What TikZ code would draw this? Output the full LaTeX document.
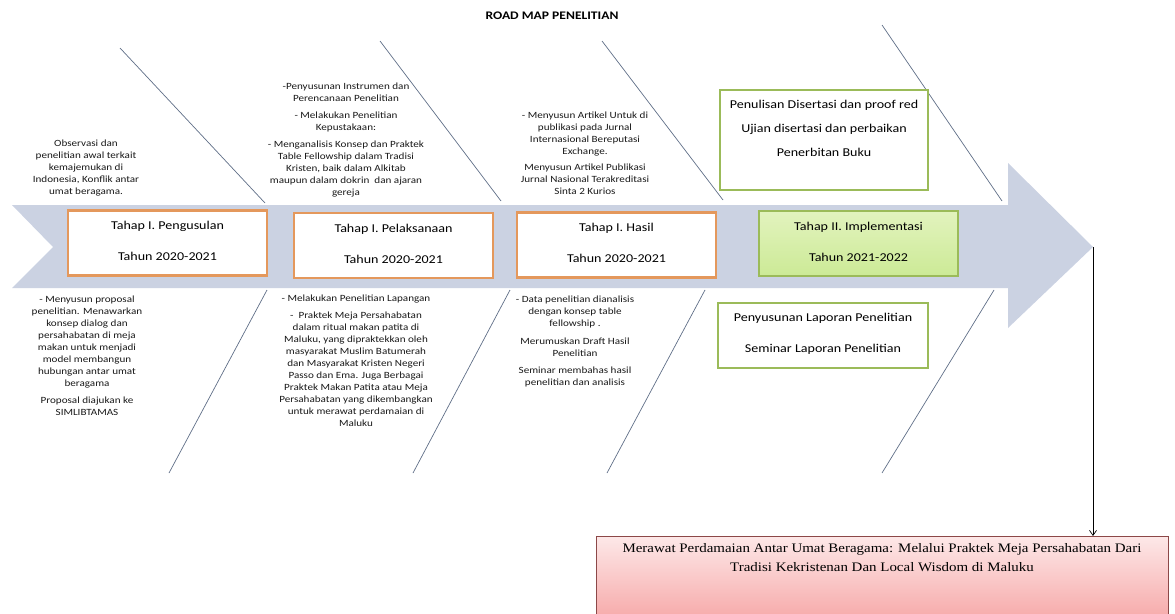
\documentclass[tikz,border=0pt]{standalone}
\usepackage{fontspec}
\setmainfont{Carlito}[FakeStretch=1.17]
\newfontfamily\goalfont{Liberation Serif}[FakeStretch=1.15]
\usetikzlibrary{arrows.meta}
\definecolor{bandblue}{RGB}{203,210,226}
\definecolor{fishline}{RGB}{95,110,135}
\definecolor{stageorange}{RGB}{228,152,92}
\definecolor{stagegreen}{RGB}{155,187,89}
\definecolor{greentop}{RGB}{226,243,190}
\definecolor{greenbot}{RGB}{204,234,150}
\definecolor{goaltop}{RGB}{253,232,232}
\definecolor{goalbot}{RGB}{245,155,155}
\definecolor{goalline}{RGB}{140,72,72}
\definecolor{notetext}{RGB}{25,25,25}
\newcommand{\Thn}[1]{Tahun #1}
\tikzset{
  stagebox/.style={draw=stageorange, line width=2.2pt, fill=white,
    minimum width=199, minimum height=65, align=center,
    font=\fontsize{12}{14}\selectfont, text depth=4pt},
  planbox/.style={stagebox, draw=stagegreen},
  note/.style={anchor=north, inner sep=0pt, align=center, text=notetext,
    font=\fontsize{9.5}{12}\selectfont},
  fish/.style={draw=fishline, line width=0.7pt}
}

\begin{document}
\begin{tikzpicture}[x=1pt, y=-1pt]
  \useasboundingbox (0,0) rectangle (1175,613);

  \node[font=\bfseries\fontsize{11.6}{13}\selectfont] (title) at (552,16) {ROAD MAP PENELITIAN};

  % panah utama
  \fill[bandblue] (12,205) -- (1008,205) -- (1008,163) -- (1093,247)
    -- (1008,328) -- (1008,288) -- (12,288) -- (53,247) -- cycle;
  \coordinate (tip) at (1093,247);

  % tulang ikan
  \draw[fish] (120,48) -- (265,203);
  \draw[fish] (380,41) -- (501,201);
  \draw[fish] (602,41) -- (723,200);
  \draw[fish] (882,25) -- (1002,201);
  \draw[fish] (267,290) -- (169,473);
  \draw[fish] (510,290) -- (413,473);
  \draw[fish] (705,290) -- (607,473);
  \draw[fish] (994,290) -- (882,473);

  \node[stagebox] (pengusulan) at (167.5,243) {Tahap I. Pengusulan\\[17pt]\Thn{2020-2021}};
  \node[stagebox] (pelaksanaan) at (393.5,245.5) {Tahap I. Pelaksanaan\\[17pt]\Thn{2020-2021}};
  \node[stagebox] (hasil) at (616.5,245) {Tahap I. Hasil\\[17pt]\Thn{2020-2021}};
  \node[planbox, top color=greentop, bottom color=greenbot] (implementasi) at (858.5,243.5)
    {Tahap II. Implementasi\\[17pt]\Thn{2021-2022}};
  \node[planbox, minimum width=208, minimum height=100, text depth=24pt] (disertasi) at (824,140)
    {Penulisan Disertasi dan proof red\\[10pt]Ujian disertasi dan perbaikan\\[10pt]Penerbitan Buku};
  \node[planbox, minimum width=210, text depth=6pt] (laporan) at (823,335.5)
    {Penyusunan Laporan Penelitian\\[17pt]Seminar Laporan Penelitian};

  \node[note] (usul-atas) at (86,139.5) {Observasi dan\\ penelitian awal terkait\\ kemajemukan di\\
    Indonesia, Konflik antar\\ umat beragama.};
  \node[note] (usul-bawah) at (87,295.5) {- Menyusun proposal\\ penelitian. Menawarkan\\ konsep dialog dan\\
    persahabatan di meja\\ makan untuk menjadi\\ model membangun\\ hubungan antar umat\\ beragama\\[5pt]
    Proposal diajukan ke\\ SIMLIBTAMAS};
  \node[note] (laksana-atas) at (346,82.5) {-Penyusunan Instrumen dan\\ Perencanaan Penelitian\\[5pt]
    - Melakukan Penelitian\\ Kepustakaan:\\[5pt]
    - Menganalisis Konsep dan Praktek\\ Table Fellowship dalam Tradisi\\ Kristen, baik dalam Alkitab\\
    maupun dalam dokrin \ dan ajaran\\ gereja};
  \node[note] (laksana-bawah) at (356,294.5) {- Melakukan Penelitian Lapangan\\[5pt]
    - \ Praktek Meja Persahabatan\\ dalam ritual makan patita di\\ Maluku, yang dipraktekkan oleh\\
    masyarakat Muslim Batumerah\\ dan Masyarakat Kristen Negeri\\ Passo dan Ema. Juga Berbagai\\
    Praktek Makan Patita atau Meja\\ Persahabatan yang dikembangkan\\ untuk merawat perdamaian di\\ Maluku};
  \node[note] (hasil-atas) at (585,111.5) {- Menyusun Artikel Untuk di\\ publikasi pada Jurnal\\
    Internasional Bereputasi\\ Exchange.\\[4pt]
    Menyusun Artikel Publikasi\\ Jurnal Nasional Terakreditasi\\ Sinta 2 Kurios};
  \node[note] (hasil-bawah) at (575,295.5) {- Data penelitian dianalisis\\ dengan konsep table\\ fellowship .\\[6pt]
    Merumuskan Draft Hasil\\ Penelitian\\[5pt]
    Seminar membahas hasil\\ penelitian dan analisis};

  \node[anchor=north, draw=goalline, line width=0.6pt, top color=goaltop, bottom color=goalbot,
    minimum width=572, inner xsep=0pt, inner ysep=7pt, align=center, text depth=60pt,
    font=\goalfont\fontsize{13}{19}\selectfont] (tujuan) at (882,536)
    {Merawat Perdamaian Antar Umat Beragama: Melalui Praktek Meja Persahabatan Dari\\
     Tradisi Kekristenan Dan Local Wisdom di Maluku};

  \draw[-{Straight Barb[length=5pt, width=7pt]}, line width=0.7pt] (tip) -- (tip |- tujuan.north);
\end{tikzpicture}
\end{document}
